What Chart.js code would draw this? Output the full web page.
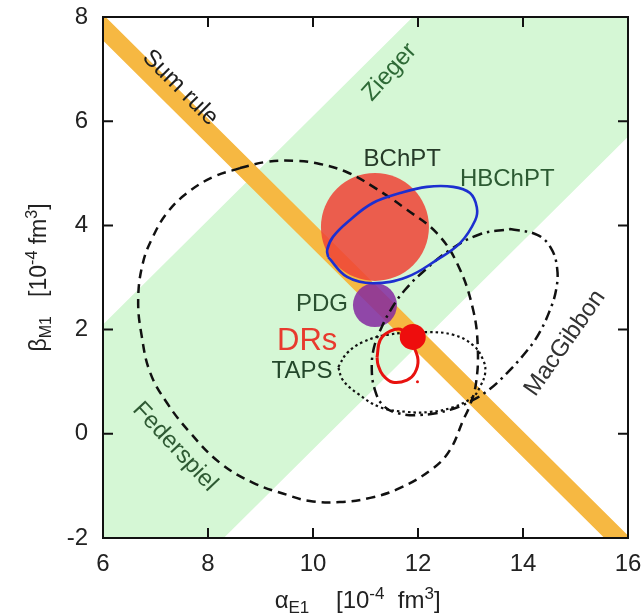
<!DOCTYPE html>
<html><head><meta charset="utf-8">
<script src="https://cdn.jsdelivr.net/npm/chart.js@4.4.1/dist/chart.umd.min.js"></script>
<style>html,body{margin:0;padding:0;background:#fff;}canvas{display:block;}</style>
</head><body>
<canvas id="c" width="644" height="615"></canvas>
<script>
// ---- data ----
const xRange=[6,16];
const yRange=[-2,8];
const tickStep=2;
const zeigerBandX=[6,11.9,16,16,8.3,6,6];
const zeigerBandY=[2.1,8,8,5.7,-2,-2,2.1];
const sumRuleX=[6,6.05,16,16,15.55,6,6];
const sumRuleY=[8,8,-1.95,-2,-2,7.55,8];
const bchpt=[11.18,3.97];
const pdg=[11.18,2.47];
const drsPoint=[11.90,1.86];
const federspielX=[8.61,9.12,9.66,10.13,10.65,11.18,11.79,12.36,12.76,13.05,13.14,13.10,12.99,12.86,12.61,12.29,11.66,11.09,10.51,9.94,9.50,8.86,8.23,7.66,7.22,6.90,6.74,6.67,6.76,6.95,7.22,7.60,8.10];
const federspielY=[5.10,5.22,5.24,5.18,5.02,4.72,4.30,3.85,3.24,2.38,1.61,0.94,0.55,0.26,-0.31,-0.66,-1.04,-1.23,-1.31,-1.29,-1.17,-0.94,-0.56,0.02,0.59,1.17,1.86,2.57,3.28,3.78,4.24,4.62,4.93];
const macgibbonX=[13.75,14.27,14.53,14.65,14.63,14.50,14.29,14.04,13.70,13.37,13.05,12.61,12.04,11.60,11.33,11.18,11.12,11.16,11.31,11.50,11.75,12.13,12.61,13.18];
const macgibbonY=[3.93,3.82,3.57,3.18,2.76,2.34,1.90,1.55,1.17,0.86,0.65,0.46,0.36,0.40,0.55,0.84,1.22,1.65,2.05,2.41,2.76,3.14,3.53,3.83];
const tapsX=[10.48,10.65,10.95,11.41,12.17,12.67,13.05,13.24,13.28,13.18,13.05,12.67,12.23,11.79,11.28,10.84,10.57];
const tapsY=[1.28,1.55,1.76,1.90,1.95,1.90,1.70,1.42,1.17,0.90,0.71,0.51,0.42,0.42,0.51,0.78,1.03];
const hbchptX=[10.29,10.65,11.14,11.79,12.36,12.80,13.09,13.12,12.99,12.67,12.17,11.66,11.14,10.70,10.38,10.27];
const hbchptY=[3.39,3.01,2.89,3.01,3.34,3.66,4.10,4.35,4.62,4.74,4.74,4.62,4.43,4.10,3.78,3.53];
const drsLoopX=[11.22,11.28,11.47,11.70,11.90,12.00,11.94,11.79,11.52,11.33,11.24];
const drsLoopY=[1.47,1.80,1.97,1.99,1.70,1.42,1.17,1.03,0.99,1.13,1.32];
const drsTick=[11.99,1.00];

// ---- text labels (data-anchored) ----
const labels=[
 {t:'Sum rule',x:7.47,y:6.64,rot:45,c:'#1e1e1e',s:24},
 {t:'Zieger',x:11.46,y:6.94,rot:-48,c:'#2e6a36',s:24},
 {t:'BChPT',x:11.70,y:5.26,rot:0,c:'#263a28',s:24},
 {t:'HBChPT',x:13.70,y:4.89,rot:0,c:'#2c5a32',s:24},
 {t:'PDG',x:10.17,y:2.49,rot:0,c:'#2a5030',s:24},
 {t:'DRs',x:9.89,y:1.78,rot:0,c:'#e83a2e',s:31},
 {t:'TAPS',x:9.79,y:1.19,rot:0,c:'#23472a',s:24},
 {t:'Federspiel',x:7.37,y:-0.25,rot:47,c:'#2e5a33',s:24},
 {t:'MacGibbon',x:14.80,y:1.74,rot:-55,c:'#333333',s:24}
];

const FONT='"Liberation Sans", Arial, Helvetica, sans-serif';
const pts=(xs,ys)=>xs.map((x,i)=>({x:x,y:ys[i]}));
const loop=(xs,ys)=>{const p=pts(xs,ys);p.push(p[0]);return p;};

function drawRich(ctx,parts,cx,cy,rot){
  ctx.save();ctx.translate(cx,cy);ctx.rotate(rot);
  let w=0;parts.forEach(p=>{ctx.font=p.s+'px '+FONT;p.w=ctx.measureText(p.t).width;w+=p.w;});
  let x=-w/2;ctx.textBaseline='alphabetic';ctx.textAlign='left';ctx.fillStyle='#222';
  parts.forEach(p=>{ctx.font=p.s+'px '+FONT;ctx.fillText(p.t,x,7+(p.dy||0));x+=p.w;});
  ctx.restore();
}

const deco={
 id:'deco',
 afterDatasetsDraw(chart){
  const {ctx,chartArea:a,scales}=chart;const xs=scales.x,ys=scales.y;
  ctx.save();
  labels.forEach(l=>{
    ctx.save();ctx.translate(xs.getPixelForValue(l.x),ys.getPixelForValue(l.y));
    ctx.rotate(l.rot*Math.PI/180);ctx.font=l.s+'px '+FONT;ctx.fillStyle=l.c;
    ctx.textAlign='center';ctx.textBaseline='middle';ctx.fillText(l.t,0,0);ctx.restore();
  });
  ctx.strokeStyle='#111';ctx.lineWidth=2;
  ctx.strokeRect(a.left,a.top,a.right-a.left,a.bottom-a.top);
  ctx.beginPath();
  xs.ticks.forEach(t=>{const p=xs.getPixelForValue(t.value);
    ctx.moveTo(p,a.bottom);ctx.lineTo(p,a.bottom-10);ctx.moveTo(p,a.top);ctx.lineTo(p,a.top+10);});
  ys.ticks.forEach(t=>{const p=ys.getPixelForValue(t.value);
    ctx.moveTo(a.left,p);ctx.lineTo(a.left+10,p);ctx.moveTo(a.right,p);ctx.lineTo(a.right-10,p);});
  ctx.stroke();
  ctx.restore();
 },
 afterDraw(chart){
  const {ctx,chartArea:a}=chart;
  drawRich(ctx,[{t:'\u03B1',s:24},{t:'E1',s:17,dy:5},{t:'    [10',s:24},{t:'-4',s:17,dy:-9},{t:'  fm',s:24},{t:'3',s:17,dy:-9},{t:']',s:24}],a.left+(a.right-a.left)*0.485,601,0);
  drawRich(ctx,[{t:'\u03B2',s:23},{t:'M1',s:16,dy:5},{t:'   [10',s:23},{t:'-4',s:16,dy:-9},{t:' fm',s:23},{t:'3',s:16,dy:-9},{t:']',s:23}],39,(a.top+a.bottom)/2,-Math.PI/2);
 }
};

const lineDs=(label,data,color,width,dash,order)=>({label,data,showLine:true,borderColor:color,borderWidth:width,borderDash:dash,tension:0.4,pointRadius:0,fill:false,order,borderCapStyle:'butt',borderJoinStyle:'round'});
const noPad=s=>{s.paddingLeft=0;s.paddingRight=0;s.paddingTop=0;s.paddingBottom=0;};

new Chart(document.getElementById('c'),{
 type:'scatter',
 data:{datasets:[
  {label:'DRs',data:[{x:drsPoint[0],y:drsPoint[1]}],pointRadius:13,pointBackgroundColor:'#ee0d0d',pointBorderWidth:0,order:0},
  {label:'DRs mark',data:[{x:drsTick[0],y:drsTick[1]}],pointRadius:1.5,pointBackgroundColor:'#e8120f',pointBorderWidth:0,order:0},
  lineDs('DRs loop',loop(drsLoopX,drsLoopY),'#e8120f',3,[],1),
  lineDs('HBChPT',loop(hbchptX,hbchptY),'#1d2fd0',2.6,[],2),
  lineDs('TAPS',loop(tapsX,tapsY),'#111',2.2,[2.5,3],3),
  lineDs('MacGibbon',loop(macgibbonX,macgibbonY),'#111',2.5,[10,5,2.5,5],4),
  lineDs('Federspiel',loop(federspielX,federspielY),'#111',2.5,[9,6],5),
  {label:'PDG',data:[{x:pdg[0],y:pdg[1]}],pointRadius:22,pointBackgroundColor:'rgba(132,40,160,0.85)',pointBorderWidth:0,order:6},
  {label:'BChPT',data:[{x:bchpt[0],y:bchpt[1]}],pointRadius:54,pointBackgroundColor:'rgba(239,68,55,0.86)',pointBorderWidth:0,order:7},
  {label:'Sum rule',data:pts(sumRuleX,sumRuleY),showLine:true,fill:'shape',backgroundColor:'rgb(246,184,66)',borderWidth:0,pointRadius:0,tension:0,order:8},
  {label:'Zieger',data:pts(zeigerBandX,zeigerBandY),showLine:true,fill:'shape',backgroundColor:'rgb(213,247,213)',borderWidth:0,pointRadius:0,tension:0,order:9}
 ]},
 options:{
  responsive:false,animation:false,devicePixelRatio:1,events:[],
  layout:{autoPadding:false,padding:{left:0,right:16,top:17,bottom:0}},
  plugins:{legend:{display:false},tooltip:{enabled:false}},
  scales:{
   x:{type:'linear',min:xRange[0],max:xRange[1],
      ticks:{stepSize:tickStep,color:'#222',font:{size:24,family:FONT},padding:12,maxRotation:0},
      grid:{display:false,drawTicks:false},border:{display:false},
      afterFit(s){s.height=77;noPad(s);}},
   y:{type:'linear',min:yRange[0],max:yRange[1],
      ticks:{stepSize:tickStep,color:'#222',font:{size:24,family:FONT},padding:15},
      grid:{display:false,drawTicks:false},border:{display:false},
      afterFit(s){s.width=103;noPad(s);}}
  }
 },
 plugins:[deco]
});
</script>
</body></html>
